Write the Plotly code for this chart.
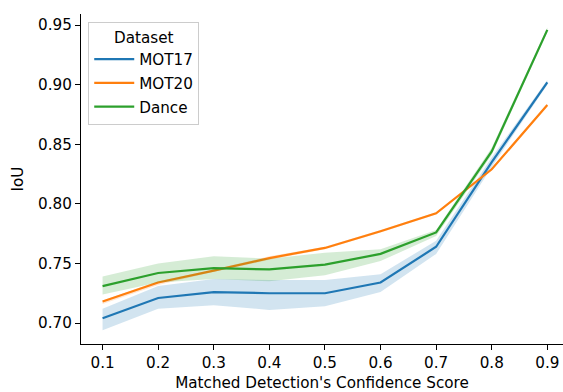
import plotly.graph_objects as go

# ---- data ----
conf = [0.1, 0.2, 0.3, 0.4, 0.5, 0.6, 0.7, 0.8, 0.9]

mot17_mean = [0.704, 0.721, 0.726, 0.725, 0.725, 0.734, 0.764, 0.835, 0.902]
mot17_lo   = [0.694, 0.712, 0.715, 0.711, 0.714, 0.726, 0.758, 0.831, 0.900]
mot17_hi   = [0.712, 0.731, 0.737, 0.736, 0.736, 0.741, 0.769, 0.839, 0.904]

mot20_mean = [0.718, 0.734, 0.744, 0.7545, 0.763, 0.777, 0.792, 0.829, 0.883]
mot20_lo   = [0.716, 0.732, 0.743, 0.753, 0.762, 0.776, 0.791, 0.828, 0.882]
mot20_hi   = [0.719, 0.735, 0.745, 0.756, 0.764, 0.778, 0.793, 0.830, 0.884]

dance_mean = [0.731, 0.742, 0.746, 0.745, 0.749, 0.758, 0.776, 0.844, 0.946]
dance_lo   = [0.724, 0.734, 0.737, 0.735, 0.740, 0.752, 0.773, 0.841, 0.944]
dance_hi   = [0.739, 0.750, 0.756, 0.754, 0.759, 0.762, 0.778, 0.847, 0.948]

series_names = ["MOT17", "MOT20", "Dance"]
x_ticks = [0.1, 0.2, 0.3, 0.4, 0.5, 0.6, 0.7, 0.8, 0.9]
y_ticks = [0.70, 0.75, 0.80, 0.85, 0.90, 0.95]

# ---- styling ----
colors = ["#1f77b4", "#ff7f0e", "#2ca02c"]
fills = ["rgba(31,119,180,0.2)", "rgba(255,127,14,0.2)", "rgba(44,160,44,0.2)"]
FONT = "DejaVu Sans"
FS = 15.2

fig = go.Figure()
data = [
    (mot17_mean, mot17_lo, mot17_hi),
    (mot20_mean, mot20_lo, mot20_hi),
    (dance_mean, dance_lo, dance_hi),
]
for i, (name, (m, lo, hi)) in enumerate(zip(series_names, data)):
    fig.add_trace(go.Scatter(
        x=conf + conf[::-1], y=hi + lo[::-1],
        fill="toself", fillcolor=fills[i], mode="lines",
        line=dict(width=0, color=fills[i]),
        showlegend=False, hoverinfo="skip", legendgroup=name,
    ))
    fig.add_trace(go.Scatter(
        x=conf, y=m, mode="lines", name=name, legendgroup=name,
        line=dict(color=colors[i], width=2.2),
    ))

axis_common = dict(
    showgrid=False, zeroline=False, showline=True, linecolor="black",
    linewidth=1.2, ticks="outside", ticklen=5, tickwidth=1.2,
    tickcolor="black", mirror=False,
    tickfont=dict(family=FONT, size=FS, color="black"),
)

fig.update_layout(
    width=563, height=392,
    margin=dict(l=81, r=0, t=14, b=48, pad=0),
    paper_bgcolor="white", plot_bgcolor="white",
    font=dict(family=FONT, size=FS, color="black"),
    xaxis=dict(
        **axis_common,
        range=[0.0612, 0.9282],
        tickvals=x_ticks, ticktext=[f"{v:.1f}" for v in x_ticks],
        title=dict(text="Matched Detection's Confidence Score",
                   font=dict(family=FONT, size=FS, color="black"), standoff=7),
    ),
    yaxis=dict(
        **axis_common,
        range=[0.6824, 0.9593],
        tickvals=y_ticks, ticktext=[f"{v:.2f}" for v in y_ticks],
        title=dict(text="IoU", font=dict(family=FONT, size=FS, color="black"),
                   standoff=10),
    ),
    legend=dict(
        x=0.015, y=0.976, xanchor="left", yanchor="top",
        bgcolor="white", bordercolor="#cccccc", borderwidth=1,
        font=dict(family=FONT, size=FS, color="black"),
        title=dict(text="Dataset", side="top center",
                   font=dict(family=FONT, size=FS, color="black")),
        tracegroupgap=1, itemwidth=40,
    ),
    showlegend=True,
)

fig.write_html("out.html", config={"displayModeBar": False},
               post_script="document.body.style.margin='0';")
